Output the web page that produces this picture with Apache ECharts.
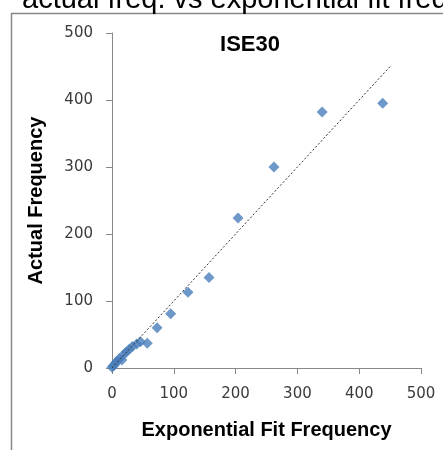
<!DOCTYPE html>
<html>
<head>
<meta charset="utf-8">
<script src="https://cdn.jsdelivr.net/npm/echarts@6/dist/echarts.min.js"></script>
<style>
  html, body { margin: 0; padding: 0; background: #fff; }
  #chart { width: 443px; height: 450px; }
</style>
</head>
<body>
<div id="chart"></div>
<script>
// exponential fit frequency vs actual frequency
var fitFreq = [0, 2, 4, 6, 9, 12, 16, 19, 23, 28, 33, 40, 46, 57, 73, 95, 123, 157, 204, 262, 340, 438];
var actualFreq = [1, 3, 5, 8, 11, 14, 12, 20, 24, 28, 32, 36, 39, 37, 60, 81, 113, 135, 224, 300, 382, 395];
var refLine = [[0, 0], [450, 450]];
var axisTicks = [0, 100, 200, 300, 400, 500];

var points = [];
for (var i = 0; i < fitFreq.length; i++) {
    points.push([fitFreq[i], actualFreq[i]]);
}

var dom = document.getElementById("chart");
var myChart = echarts.init(dom);
var option = {
    animation: false,
    textStyle: { fontFamily: 'Liberation Sans, Arial, sans-serif' },
    title: [{
        text: 'ISE30',
        left: 245,
        top: 29,
        textAlign: 'center',
        textStyle: { fontSize: 22, fontWeight: 'bold', color: '#000' }
    }],
    graphic: [{
        type: 'rect',
        shape: { x: 11.5, y: 13.5, width: 500, height: 500 },
        style: { fill: 'none', stroke: '#888', lineWidth: 1.5 },
        silent: true
    }, {
        type: 'text',
        left: 22,
        top: -15,
        style: {
            text: 'actual freq. vs exponential fit freq',
            font: '29px Liberation Sans, Arial, sans-serif',
            fill: '#000'
        }
    }],
    grid: { left: 112, right: 22, top: 33, bottom: 82 },
    xAxis: {
        type: 'value',
        min: axisTicks[0],
        max: axisTicks[axisTicks.length - 1],
        interval: 100,
        name: 'Exponential Fit Frequency',
        nameLocation: 'middle',
        nameGap: 52,
        nameTextStyle: { fontSize: 20, fontWeight: 'bold', color: '#000' },
        axisLine: { show: true, lineStyle: { color: '#888', width: 1 } },
        axisTick: { show: true, length: 6, lineStyle: { color: '#888' } },
        axisLabel: { fontSize: 15, fontFamily: 'DejaVu Sans', color: '#3a3a3a', margin: 19 },
        splitLine: { show: false }
    },
    yAxis: {
        type: 'value',
        min: axisTicks[0],
        max: axisTicks[axisTicks.length - 1],
        interval: 100,
        name: 'Actual Frequency',
        nameLocation: 'middle',
        nameGap: 66,
        nameTextStyle: { fontSize: 20, fontWeight: 'bold', color: '#000' },
        axisLine: { show: true, lineStyle: { color: '#888', width: 1 } },
        axisTick: { show: true, length: 6, lineStyle: { color: '#888' } },
        axisLabel: { fontSize: 15, fontFamily: 'DejaVu Sans', color: '#3a3a3a', margin: 19 },
        splitLine: { show: false }
    },
    series: [{
        type: 'line',
        data: refLine,
        symbol: 'none',
        lineStyle: { color: '#333', width: 1, type: [2, 2] },
        z: 3
    }, {
        type: 'scatter',
        data: points,
        symbol: 'diamond',
        symbolSize: 11,
        itemStyle: { color: '#4A7EBB' },
        z: 2
    }]
};
myChart.setOption(option, true);
</script>
</body>
</html>
